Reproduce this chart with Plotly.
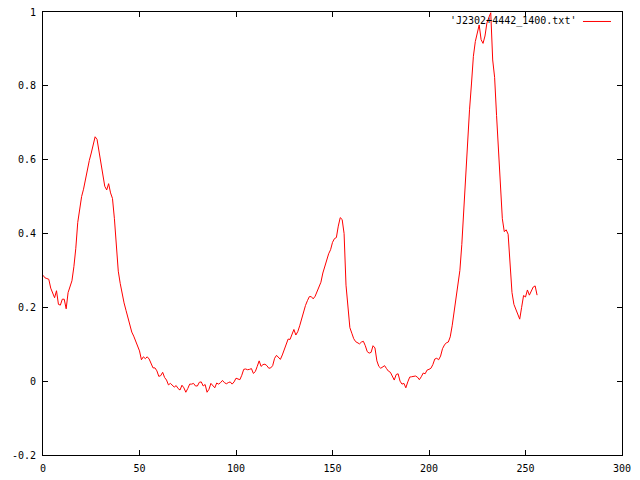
import plotly.graph_objects as go

series_name = "'J2302+4442_1400.txt'"

x_values = list(range(257))
y_values = [
    0.287, 0.280, 0.278, 0.276, 0.252, 0.238, 0.226, 0.245, 0.208, 0.206,
    0.222, 0.222, 0.196, 0.240, 0.255, 0.272, 0.310, 0.360, 0.430, 0.465,
    0.500, 0.520, 0.545, 0.578, 0.598, 0.618, 0.643, 0.662, 0.655, 0.622,
    0.592, 0.555, 0.528, 0.518, 0.535, 0.510, 0.495, 0.440, 0.355, 0.298,
    0.265, 0.236, 0.212, 0.192, 0.172, 0.146, 0.133, 0.122, 0.108, 0.094,
    0.082, 0.058, 0.066, 0.061, 0.066, 0.060, 0.046, 0.036, 0.036, 0.028,
    0.013, 0.015, 0.024, 0.010, 0.003, -0.010, -0.006, -0.011, -0.016, -0.012,
    -0.020, -0.024, -0.011, -0.018, -0.030, -0.020, -0.008, -0.008, -0.006, -0.013,
    -0.013, -0.003, -0.002, -0.013, -0.009, -0.030, -0.022, -0.006, -0.012, -0.018,
    -0.005, -0.008, -0.004, 0.002, -0.004, -0.007, -0.004, -0.002, -0.008, -0.002,
    0.008, 0.005, 0.004, 0.016, 0.032, 0.033, 0.031, 0.032, 0.034, 0.021,
    0.026, 0.040, 0.055, 0.040, 0.045, 0.046, 0.042, 0.035, 0.036, 0.042,
    0.062, 0.070, 0.065, 0.059, 0.071, 0.086, 0.095, 0.114, 0.113, 0.125,
    0.140, 0.125, 0.134, 0.150, 0.170, 0.185, 0.205, 0.218, 0.229, 0.229,
    0.223, 0.230, 0.243, 0.252, 0.268, 0.293, 0.310, 0.330, 0.345, 0.356,
    0.376, 0.386, 0.389, 0.420, 0.443, 0.438, 0.400, 0.260, 0.190, 0.145,
    0.130, 0.115, 0.107, 0.104, 0.101, 0.106, 0.108, 0.096, 0.080, 0.076,
    0.078, 0.096, 0.090, 0.055, 0.040, 0.035, 0.038, 0.042, 0.034, 0.027,
    0.024, 0.014, 0.003, 0.018, 0.020, 0.000, -0.008, -0.006, -0.018, -0.002,
    0.011, 0.012, 0.014, 0.014, 0.011, 0.004, 0.012, 0.022, 0.020, 0.030,
    0.032, 0.035, 0.045, 0.060, 0.062, 0.058, 0.068, 0.088, 0.098, 0.104,
    0.106, 0.120, 0.150, 0.185, 0.220, 0.265, 0.300, 0.370, 0.470, 0.560,
    0.650, 0.735, 0.805, 0.880, 0.920, 0.945, 0.965, 0.925, 0.915, 0.935,
    0.970, 0.985, 0.998, 0.870, 0.823, 0.720, 0.616, 0.508, 0.440, 0.405,
    0.410, 0.398, 0.330, 0.240, 0.208, 0.193, 0.179, 0.168, 0.200, 0.232,
    0.228, 0.247, 0.233, 0.242, 0.255, 0.258, 0.233,
]

x_ticks = [0, 50, 100, 150, 200, 250, 300]
y_ticks = [-0.2, 0, 0.2, 0.4, 0.6, 0.8, 1]
y_tick_labels = ["-0.2", "0", "0.2", "0.4", "0.6", "0.8", "1"]

FONT = dict(family="DejaVu Sans Mono", size=10, color="black")

fig = go.Figure()
fig.add_trace(go.Scatter(
    x=x_values, y=y_values, mode="lines", name=series_name,
    line=dict(color="#ff0000", width=1), showlegend=False,
))

axis_common = dict(
    showgrid=False, zeroline=False, showline=True, linecolor="black",
    linewidth=1, mirror="ticks", ticks="inside", ticklen=5,
    tickcolor="black", tickfont=FONT, automargin=False,
)
fig.update_xaxes(range=[0, 300], tickvals=x_ticks,
                 ticktext=[str(v) for v in x_ticks], ticklabelstandoff=4,
                 **axis_common)
fig.update_yaxes(range=[-0.2, 1], tickvals=y_ticks, ticktext=y_tick_labels,
                 ticklabelstandoff=4, **axis_common)

fig.add_annotation(
    x=0.924, y=0.9786, xref="paper", yref="paper", text=series_name,
    showarrow=False, xanchor="right", yanchor="middle", font=FONT,
)
fig.add_shape(type="line", xref="paper", yref="paper",
              x0=0.9326, x1=0.981, y0=0.9786, y1=0.9786,
              line=dict(color="#ff0000", width=1))

fig.update_layout(
    width=640, height=480,
    margin=dict(l=43, r=18, t=12, b=25, pad=0, autoexpand=False),
    paper_bgcolor="white", plot_bgcolor="white",
    font=FONT,
)

fig.write_html(
    "out.html",
    config={"displayModeBar": False},
    post_script="document.body.style.margin='0';document.body.style.overflow='hidden';",
)
